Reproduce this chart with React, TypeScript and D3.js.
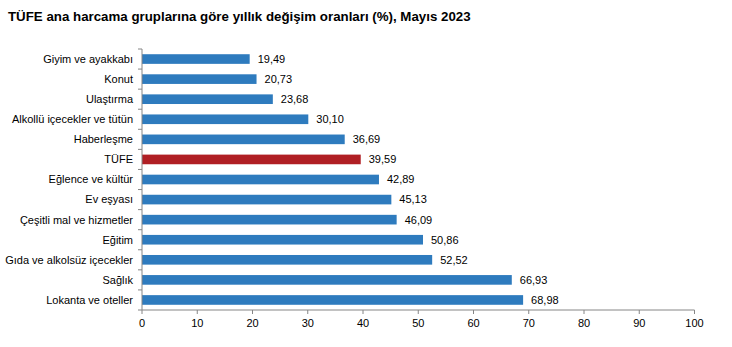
import React from "react";
import * as d3 from "d3";

const categories = [
  "Giyim ve ayakkabı",
  "Konut",
  "Ulaştırma",
  "Alkollü içecekler ve tütün",
  "Haberleşme",
  "TÜFE",
  "Eğlence ve kültür",
  "Ev eşyası",
  "Çeşitli mal ve hizmetler",
  "Eğitim",
  "Gıda ve alkolsüz içecekler",
  "Sağlık",
  "Lokanta ve oteller",
];
const values = [19.49, 20.73, 23.68, 30.1, 36.69, 39.59, 42.89, 45.13, 46.09, 50.86, 52.52, 66.93, 68.98];
const xTicks = [0, 10, 20, 30, 40, 50, 60, 70, 80, 90, 100];
const title = "TÜFE ana harcama gruplarına göre yıllık değişim oranları (%), Mayıs 2023";

export default function App() {
  const W = 732, H = 347;
  const x = d3.scaleLinear().domain([0, 100]).range([142, 694.5]);
  const y = d3.scaleBand().domain(categories).range([49, 310]).paddingInner(0.52).paddingOuter(0.26);
  const font = "'Liberation Sans', Arial, sans-serif";
  const fmt = (v: number) => v.toFixed(2).replace(".", ",");
  const bounds = d3.range(categories.length + 1).map((i) => 49 + (i * (310 - 49)) / categories.length);
  return (
    <svg width={W} height={H} style={{ position: "absolute", left: 0, top: 0, background: "#fff" }} fontFamily={font}>
      <text x={8} y={21} fontSize={13.3} fontWeight="bold" fill="#000">{title}</text>
      {categories.map((c, i) => (
        <g key={c}>
          <rect x={x(0)} y={y(c)!} width={x(values[i]) - x(0)} height={y.bandwidth()} fill={c === "TÜFE" ? "#B01F24" : "#2E7BBE"} />
          <text x={133} y={y(c)! + y.bandwidth() / 2} dy="0.35em" textAnchor="end" fontSize={11} fill="#000">{c}</text>
          <text x={x(values[i]) + 8} y={y(c)! + y.bandwidth() / 2} dy="0.35em" fontSize={11} fill="#000">{fmt(values[i])}</text>
        </g>
      ))}
      <line x1={142} x2={142} y1={49} y2={310} stroke="#868686" />
      {bounds.map((b, i) => (
        <line key={i} x1={138} x2={142} y1={b} y2={b} stroke="#868686" />
      ))}
      <line x1={142} x2={694.5} y1={310} y2={310} stroke="#868686" />
      {xTicks.map((t) => (
        <g key={t}>
          <line x1={x(t)} x2={x(t)} y1={310} y2={314} stroke="#868686" />
          <text x={x(t)} y={327} textAnchor="middle" fontSize={11} fill="#000">{t}</text>
        </g>
      ))}
    </svg>
  );
}
